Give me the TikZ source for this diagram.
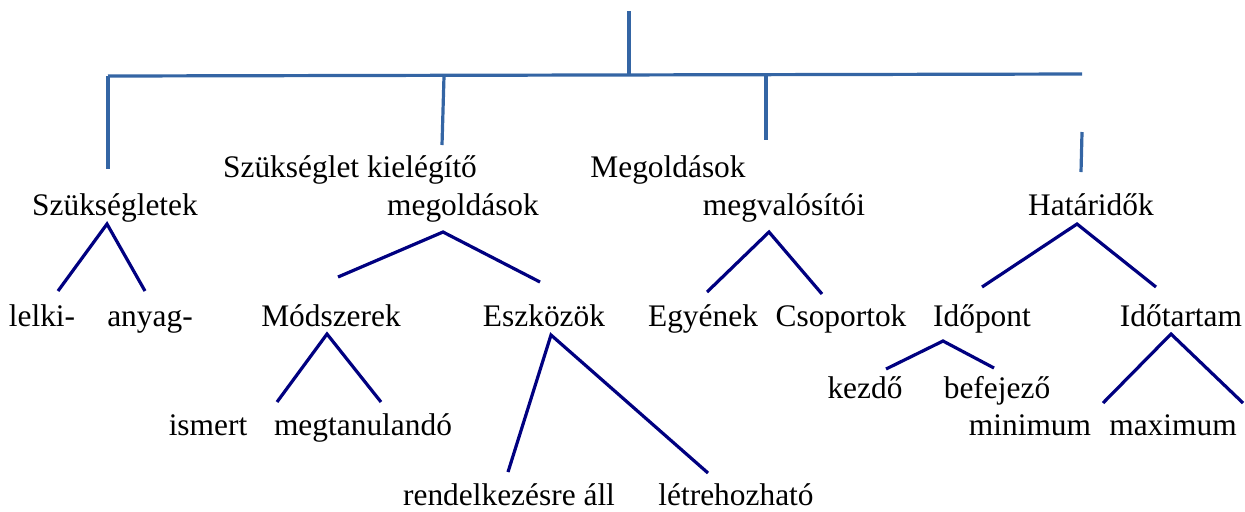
\documentclass[tikz,border=0pt]{standalone}
\usepackage{fontspec}
\setmainfont{Liberation Serif}
\usepackage{tikz}

\definecolor{frameblue}{RGB}{52,101,164}
\definecolor{legnavy}{RGB}{0,0,128}

\begin{document}
\begin{tikzpicture}[x=0.5pt, y=-0.5pt,
	label node/.style={anchor=base, inner sep=0pt, font=\fontsize{15.7pt}{18pt}\selectfont},
	frame line/.style={draw=frameblue, line width=1.6pt},
	leg line/.style={draw=legnavy, line width=1.6pt}]
	\useasboundingbox (0,0) rectangle (1245,511);
	
	% first level
	\node[label node] (szuks) at (115,215) {Szükségletek};
	\node[label node] (kielA) at (350,177) {Szükséglet kielégítő};
	\node[label node] (kielB) at (463,215) {megoldások};
	\node[label node] (megvA) at (668,177) {Megoldások};
	\node[label node] (megvB) at (784,215) {megvalósítói};
	\node[label node] (hatar) at (1091,215) {Határidők};
	
	% second level
	\node[label node] (lelki) at (42,326) {lelki-};
	\node[label node] (anyag) at (150,326) {anyag-};
	\node[label node] (modsz) at (331,326) {Módszerek};
	\node[label node] (eszk) at (544,326) {Eszközök};
	\node[label node] (egyen) at (703,326) {Egyének};
	\node[label node] (csop) at (841,326) {Csoportok};
	\node[label node] (idop) at (982,326) {Időpont};
	\node[label node] (idot) at (1181,326) {Időtartam};
	
	% third level
	\node[label node] (kezdo) at (865,398) {kezdő};
	\node[label node] (befej) at (997,398) {befejező};
	\node[label node] (ismert) at (208,435) {ismert};
	\node[label node] (megtan) at (363,435) {megtanulandó};
	\node[label node] (minim) at (1030,435) {minimum};
	\node[label node] (maxim) at (1173,435) {maximum};
	\node[label node] (rendel) at (509,505) {rendelkezésre áll};
	\node[label node] (letre) at (736,505) {létrehozható};
	
	% bracket
	\coordinate (root) at (629,11);
	\coordinate (hub) at (629,75);
	\coordinate (brL) at (108,76);
	\coordinate (brR) at (1082,74);
	\coordinate (brB) at (444,76);
	\coordinate (brC) at (766,75);
	\coordinate (dropA) at (108,169);
	\coordinate (dropB) at (442,145);
	\coordinate (dropC) at (766,140);
	\coordinate (dropDtop) at (1082,132);
	\coordinate (dropD) at (1081,172);
	
	\path[frame line]
	(root) edge (hub)
	(brL) edge (brR)
	(brL) edge (dropA)
	(brB) edge (dropB)
	(brC) edge (dropC)
	(dropDtop) edge (dropD);
	
	% legs
	\coordinate (szTop) at (107,224);
	\coordinate (szL) at (58,291);
	\coordinate (szR) at (145,291);
	\coordinate (kiTop) at (443,232);
	\coordinate (kiL) at (338,277);
	\coordinate (kiR) at (540,282);
	\coordinate (mvTop) at (769,232);
	\coordinate (mvL) at (707,292);
	\coordinate (mvR) at (822,294);
	\coordinate (haTop) at (1077,224);
	\coordinate (haL) at (982,287);
	\coordinate (haR) at (1156,287);
	\coordinate (moTop) at (327,334);
	\coordinate (moL) at (277,402);
	\coordinate (moR) at (381,402);
	\coordinate (esTop) at (551,335);
	\coordinate (esL) at (508,472);
	\coordinate (esR) at (708,473);
	\coordinate (ipTop) at (943,341);
	\coordinate (ipL) at (886,369);
	\coordinate (ipR) at (994,368);
	\coordinate (itTop) at (1171,334);
	\coordinate (itL) at (1103,403);
	\coordinate (itR) at (1243,403);
	
	\draw[leg line] (szL) -- (szTop) -- (szR);
	\draw[leg line] (kiL) -- (kiTop) -- (kiR);
	\draw[leg line] (mvL) -- (mvTop) -- (mvR);
	\draw[leg line] (haL) -- (haTop) -- (haR);
	\draw[leg line] (moL) -- (moTop) -- (moR);
	\draw[leg line] (esL) -- (esTop) -- (esR);
	\draw[leg line] (ipL) -- (ipTop) -- (ipR);
	\draw[leg line] (itL) -- (itTop) -- (itR);
\end{tikzpicture}
\end{document}
